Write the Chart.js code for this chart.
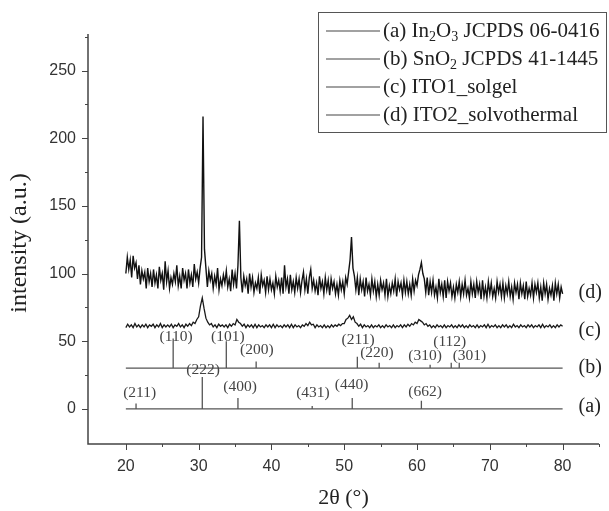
<!DOCTYPE html>
<html>
<head>
<meta charset="utf-8">
<script src="https://cdn.jsdelivr.net/npm/chart.js@4.4.1/dist/chart.umd.min.js"></script>
<style>
  html, body { margin: 0; padding: 0; background: #fff; }
  #xrd { display: block; }
</style>
</head>
<body>
<canvas id="xrd" width="609" height="511"></canvas>
<script>
// Ejes
const xMajor = [20, 30, 40, 50, 60, 70, 80];
const xMinor = [25, 35, 45, 55, 65, 75, 85];
const yMajor = [0, 50, 100, 150, 200, 250];
const yMinor = [25, 75, 125, 175, 225, 275];

// (d) ITO2_solvothermal, paso de 0.2 grados desde 20
const dStart = 20;
const dStep = 0.2;
const dY = [
  100, 112, 103, 110, 97, 113, 104, 108, 96, 106,
  92, 102, 96, 101, 89, 104, 94, 100, 90, 103,
  93, 99, 89, 105, 95, 100, 88, 109, 94, 102,
  89, 97, 92, 100, 94, 106, 91, 98, 89, 104,
  95, 100, 89, 103, 93, 99, 90, 107, 96, 101,
  93, 104, 112, 216, 118, 104, 90, 102, 95, 100,
  89, 98, 92, 104, 88, 96, 91, 99, 93, 102,
  90, 96, 87, 103, 92, 100, 89, 106, 139, 97,
  86, 98, 91, 96, 85, 100, 90, 97, 86, 93,
  89, 97, 85, 99, 91, 95, 86, 98, 88, 96,
  88, 93, 85, 98, 90, 95, 87, 97, 85, 106,
  90, 96, 85, 99, 88, 94, 86, 97, 89, 96,
  86, 95, 101, 88, 96, 85, 97, 103, 89, 95,
  87, 93, 84, 98, 89, 94, 85, 97, 88, 95,
  84, 96, 89, 94, 85, 92, 84, 95, 88, 94,
  85, 97, 92, 101, 110, 127, 104, 98, 88, 97,
  84, 96, 88, 94, 83, 97, 87, 92, 84, 96,
  87, 94, 83, 92, 84, 95, 88, 93, 84, 96,
  83, 91, 85, 93, 87, 96, 83, 94, 88, 93,
  84, 95, 86, 94, 85, 92, 84, 96, 87, 95,
  91, 99, 103, 108, 100, 96, 86, 97, 84, 94,
  86, 95, 84, 90, 82, 96, 86, 92, 83, 95,
  82, 94, 87, 93, 83, 90, 82, 92, 86, 94,
  83, 92, 85, 95, 84, 89, 82, 94, 85, 92,
  82, 94, 86, 92, 81, 95, 83, 90, 82, 94,
  85, 93, 83, 89, 82, 94, 86, 92, 83, 93,
  82, 91, 85, 94, 83, 90, 81, 93, 86, 92,
  81, 93, 85, 91, 81, 94, 83, 89, 84, 93,
  82, 92, 86, 93, 82, 90, 80, 93, 85, 92,
  81, 89, 84, 91, 80, 93, 85, 92, 82, 90,
  85
];

// (c) ITO1_solgel, paso de 0.25 grados desde 20
const cStart = 20;
const cStep = 0.25;
const cY = [
  60, 62.5, 60.5, 62, 60, 63, 60.5, 62,
  60, 62, 60.5, 62.5, 60, 62, 61, 62.5,
  60, 62, 60.5, 63, 60, 62, 60.5, 62,
  60.5, 62.5, 60, 62, 61, 63, 60.5, 62,
  60, 62.5, 61, 63, 61.5, 64, 63, 66,
  68, 76, 82, 74, 67, 64, 62, 63,
  60.5, 62, 60, 62.5, 61, 62, 60.5, 62,
  60, 62.5, 61, 63, 62, 66, 64, 63,
  61, 62.5, 60, 62, 60.5, 62, 60, 62.5,
  60, 62, 60.5, 61.5, 60, 62, 60.5, 62,
  60, 62.5, 60, 62, 60.5, 61.5, 60, 62,
  60.5, 62, 60, 62.5, 60, 62, 60.5, 61.5,
  60, 62, 61, 63, 61.5, 64, 62, 62.5,
  60, 62, 60.5, 61.5, 60, 62, 60, 61.5,
  60, 62, 60.5, 62, 61, 62.5, 61.5, 63,
  63, 66, 67, 69, 66, 68, 64, 63,
  61, 62.5, 60, 62, 60.5, 61.5, 60, 62,
  60, 61.5, 60.5, 62, 60, 61.5, 60, 62,
  60.5, 61.5, 60, 62, 60, 61.5, 60.5, 62,
  60, 62, 60.5, 62.5, 61, 63, 62, 64,
  63, 66, 65, 64, 62, 63, 61, 62,
  60, 61.5, 60, 62, 60.5, 61.5, 60, 62,
  60, 61.5, 60.5, 62, 60, 61.5, 60, 62,
  60.5, 62, 60, 61.5, 60, 62, 60.5, 61.5,
  60, 62, 60, 61.5, 60.5, 62, 60, 62.5,
  60, 61.5, 60.5, 62, 60, 61.5, 60, 62,
  60.5, 62, 60, 61.5, 60, 62.5, 60.5, 61.5,
  60, 62, 60.5, 61.5, 60, 62, 60.5, 62,
  60, 61.5, 60.5, 62, 60, 62.5, 60, 61.5,
  60.5, 62, 60, 61.5, 60, 62, 60.5, 62,
  61
];

// (b) SnO2 JCPDS 41-1445
const bBase = 30;
const bPos = [26.5, 33.8, 37.9, 51.8, 54.8, 61.8, 64.7, 65.8];
const bTop = [52, 50, 35, 38.5, 34, 32.5, 34, 34];
const bHkl = ["(110)", "(101)", "(200)", "(211)", "(220)", "(310)", "(112)", "(301)"];
const bLabX = [26.9, 34.0, 38.0, 51.9, 54.5, 61.1, 64.5, 67.2];
const bLabY = [53, 53, 43.5, 51, 41.3, 39, 49.5, 39];

// (a) In2O3 JCPDS 06-0416
const aBase = 0;
const aPos = [21.4, 30.5, 35.4, 45.6, 51.1, 60.6];
const aTop = [4, 23.6, 8, 2, 8, 6];
const aHkl = ["(211)", "(222)", "(400)", "(431)", "(440)", "(662)"];
const aLabX = [21.9, 30.6, 35.7, 45.7, 51.0, 61.1];
const aLabY = [11.8, 28.8, 16.2, 11.8, 17.7, 12.5];

const curveTags = ["(a)", "(b)", "(c)", "(d)"];
const curveTagY = [1.5, 30, 58, 86];
const legendNames = [
  "(a) In_2O_3 JCPDS 06-0416",
  "(b) SnO_2 JCPDS 41-1445",
  "(c) ITO1_solgel",
  "(d) ITO2_solvothermal",
];

const serif = "'Liberation Serif', 'Times New Roman', serif";
const sans = "'Liberation Sans', Arial, sans-serif";

// Puntos de las curvas
const stepPoints = (start, step, ys) => ys.map((y, i) => ({ x: +(start + i * step).toFixed(2), y }));

// Líneas verticales sobre la base (patrón de referencia)
const stickPoints = (pos, top, base) => {
  const pts = [{ x: 20, y: base }];
  pos.forEach((p, i) => {
    pts.push({ x: p, y: base }, { x: p, y: top[i] }, { x: p, y: base });
  });
  pts.push({ x: 80, y: base });
  return pts;
};

// Texto con subíndices: "_2" baja el dígito
const drawRich = (ctx, text, x, y, size) => {
  const parts = text.split(/(_\d)/);
  let cx = x;
  parts.forEach((part) => {
    if (!part) return;
    if (part[0] === "_") {
      ctx.font = `${Math.round(size * 0.65)}px ${serif}`;
      ctx.fillText(part[1], cx, y + size * 0.28);
      cx += ctx.measureText(part[1]).width;
    } else {
      ctx.font = `${size}px ${serif}`;
      ctx.fillText(part, cx, y);
      cx += ctx.measureText(part).width;
    }
  });
};

const decor = {
  id: "decor",
  afterDraw(chart) {
    const ctx = chart.ctx;
    const xs = chart.scales.x;
    const ys = chart.scales.y;
    const area = chart.chartArea;
    ctx.save();

    // ejes
    ctx.strokeStyle = "#444";
    ctx.lineWidth = 1.5;
    ctx.beginPath();
    ctx.moveTo(area.left, area.top);
    ctx.lineTo(area.left, area.bottom);
    ctx.lineTo(area.right, area.bottom);
    ctx.stroke();

    ctx.lineWidth = 1;
    ctx.beginPath();
    yMajor.forEach((v) => {
      const p = Math.round(ys.getPixelForValue(v)) + 0.5;
      ctx.moveTo(area.left - 6, p);
      ctx.lineTo(area.left, p);
    });
    yMinor.forEach((v) => {
      const p = Math.round(ys.getPixelForValue(v)) + 0.5;
      ctx.moveTo(area.left - 3, p);
      ctx.lineTo(area.left, p);
    });
    xMajor.forEach((v) => {
      const p = Math.round(xs.getPixelForValue(v)) + 0.5;
      ctx.moveTo(p, area.bottom);
      ctx.lineTo(p, area.bottom + 6);
    });
    xMinor.forEach((v) => {
      const p = Math.round(xs.getPixelForValue(v)) + 0.5;
      ctx.moveTo(p, area.bottom);
      ctx.lineTo(p, area.bottom + 3);
    });
    ctx.stroke();

    // títulos de ejes
    ctx.fillStyle = "#222";
    ctx.font = `22px ${serif}`;
    ctx.textAlign = "center";
    ctx.textBaseline = "middle";
    ctx.fillText("2\u03b8 (\u00b0)", (area.left + area.right) / 2, 498);
    ctx.font = `24px ${serif}`;
    ctx.save();
    ctx.translate(20, 243);
    ctx.rotate(-Math.PI / 2);
    ctx.fillText("intensity (a.u.)", 0, 0);
    ctx.restore();

    // índices de Miller
    ctx.fillStyle = "#444";
    ctx.font = `15.5px ${serif}`;
    aHkl.forEach((t, i) => ctx.fillText(t, xs.getPixelForValue(aLabX[i]), ys.getPixelForValue(aLabY[i])));
    bHkl.forEach((t, i) => ctx.fillText(t, xs.getPixelForValue(bLabX[i]), ys.getPixelForValue(bLabY[i])));

    // etiquetas (a)-(d) a la derecha
    ctx.fillStyle = "#222";
    ctx.font = `20px ${serif}`;
    ctx.textAlign = "left";
    curveTags.forEach((t, i) => ctx.fillText(t, xs.getPixelForValue(82.2), ys.getPixelForValue(curveTagY[i])));

    // leyenda
    ctx.fillStyle = "#fff";
    ctx.fillRect(318, 12, 288, 120);
    ctx.strokeStyle = "#555";
    ctx.lineWidth = 1;
    ctx.strokeRect(318.5, 12.5, 288, 120);
    const rows = [31, 59, 87, 115];
    legendNames.forEach((name, i) => {
      ctx.strokeStyle = "#444";
      ctx.lineWidth = 1.2;
      ctx.beginPath();
      ctx.moveTo(326, rows[i]);
      ctx.lineTo(380, rows[i]);
      ctx.stroke();
      ctx.fillStyle = "#222";
      ctx.textAlign = "left";
      ctx.textBaseline = "middle";
      drawRich(ctx, name, 383, rows[i], 21);
    });

    ctx.restore();
  },
};

new Chart(document.querySelector("#xrd"), {
  type: "line",
  data: {
    datasets: [
      { label: "(d) ITO2_solvothermal", data: stepPoints(dStart, dStep, dY), borderColor: "#111", borderWidth: 1.4 },
      { label: "(c) ITO1_solgel", data: stepPoints(cStart, cStep, cY), borderColor: "#1a1a1a", borderWidth: 1.3 },
      { label: "(b) SnO2 JCPDS 41-1445", data: stickPoints(bPos, bTop, bBase), borderColor: "#555", borderWidth: 1.3 },
      { label: "(a) In2O3 JCPDS 06-0416", data: stickPoints(aPos, aTop, aBase), borderColor: "#555", borderWidth: 1.3 },
    ],
  },
  options: {
    responsive: false,
    animation: false,
    devicePixelRatio: 1,
    layout: { padding: { top: 34, right: 10, left: 0, bottom: 0 } },
    elements: { point: { radius: 0 }, line: { tension: 0 } },
    plugins: { legend: { display: false }, tooltip: { enabled: false } },
    scales: {
      x: {
        type: "linear",
        min: 14.8,
        max: 85,
        afterBuildTicks: (s) => { s.ticks = xMajor.map((v) => ({ value: v })); },
        afterFit: (s) => { s.height = 67; },
        grid: { display: false, drawTicks: false },
        border: { display: false },
        ticks: { font: { family: sans, size: 16 }, color: "#333", padding: 13, maxRotation: 0, autoSkip: false },
      },
      y: {
        type: "linear",
        min: -26,
        max: 277,
        afterBuildTicks: (s) => { s.ticks = yMajor.map((v) => ({ value: v })); },
        afterFit: (s) => { s.width = 88; },
        grid: { display: false, drawTicks: false },
        border: { display: false },
        ticks: { font: { family: sans, size: 16 }, color: "#333", padding: 12, autoSkip: false },
      },
    },
  },
  plugins: [decor],
});
</script>
</body>
</html>
